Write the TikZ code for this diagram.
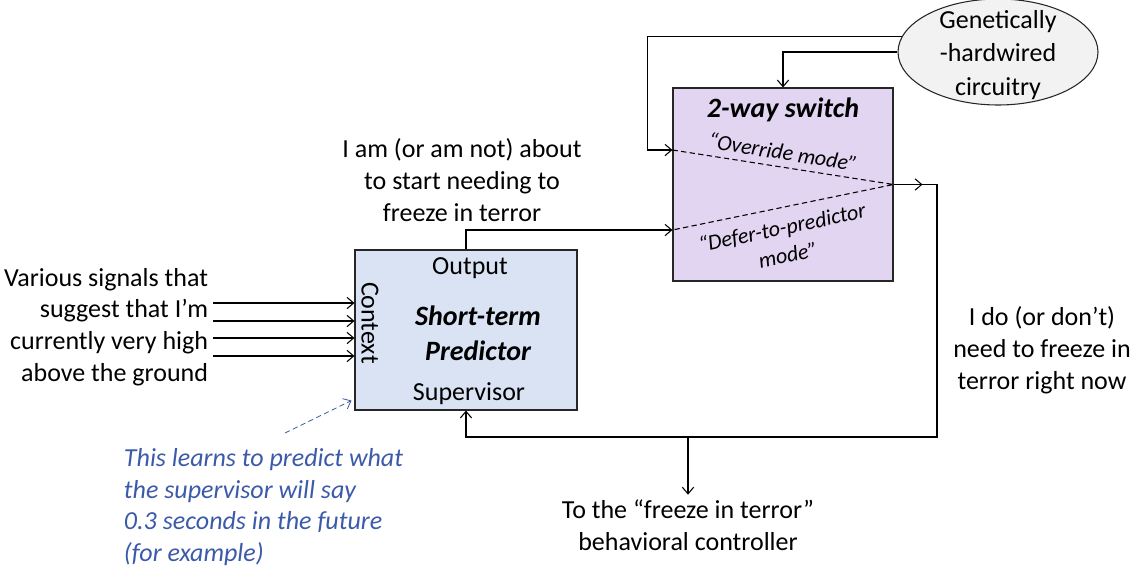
\documentclass[tikz,border=0pt]{standalone}
\usepackage{fontspec}
\setmainfont{Carlito}
\usetikzlibrary{arrows.meta,positioning,calc,shapes.geometric}
\definecolor{predfill}{RGB}{218,227,243}
\definecolor{swfill}{RGB}{226,213,241}
\definecolor{genfill}{RGB}{242,242,242}
\definecolor{noteblue}{RGB}{60,90,170}

\begin{document}
\begin{tikzpicture}[x=.75pt,y=-.75pt,font=\fontsize{19.5}{23.8}\selectfont,line width=.8pt,
  arr/.style={-{Straight Barb[length=5pt,width=8.5pt]}},
  blk/.style={draw=black!85,inner sep=0pt},
  ttl/.style={font=\fontsize{21}{26}\selectfont\bfseries\itshape,align=center},
  mode/.style={font=\fontsize{16.5}{21}\selectfont\itshape,align=center},
  note/.style={font=\fontsize{19.5}{23.8}\selectfont\itshape,text=noteblue,align=left}]
\useasboundingbox (0,0) rectangle (1131,569);
% boxes
\node[blk,fill=predfill,minimum width=166.5pt,minimum height=120pt] (pred) at (466,330) {};
\node[blk,fill=swfill,minimum width=165pt,minimum height=144.75pt] (sw) at (783,184.5) {};
\node[blk,ellipse,fill=genfill,minimum width=150pt,minimum height=79.5pt] (gen) at (998,52) {};
\node[align=center,font=\fontsize{19.5}{24.8}\selectfont] (gentxt) at (998,55) {Genetically\\-hardwired\\circuitry};
% inside the predictor
\node (outp) at (470,268) {Output};
\node[ttl] (predttl) at (478,333) {Short-term\\Predictor};
\node (supv) at (469,394) {Supervisor};
\node[rotate=-90] (ctx) at (370,323) {Context};
% inside the switch
\node[ttl] (swttl) at (783,110) {2-way switch};
\coordinate (ovr) at (sw.west |- 0,150);
\coordinate (dfr) at (sw.west |- 0,230);
\coordinate (mix) at (sw.east);
\draw[dash pattern=on 4pt off 2.5pt] (ovr) -- (mix) -- (dfr);
\node[mode,rotate=-9] (ovrlbl) at (783,152) {“Override mode”};
\node[mode,rotate=12] (dfrlbl) at (785,241) {“Defer-to-predictor\\mode”};
% labels
\node[align=right,anchor=east] (sig) at (213,327) {Various signals that\\suggest that I’m\\currently very high\\above the ground};
\node[align=center] (outlbl) at (462,180) {I am (or am not) about\\to start needing to\\freeze in terror};
\node[align=center] (nowlbl) at (1042,350) {I do (or don’t)\\need to freeze in\\terror right now};
\node[align=center] (ctl) at (688,525) {To the “freeze in terror”\\behavioral controller};
\node[note,anchor=west] (note) at (119,507) {This learns to predict what\\the supervisor will say\\0.3 seconds in the future\\(for example)};
% connectors
\foreach \y in {303,321,338,356}{\draw[arr] (sig.east |- 0,\y) -- (pred.west |- 0,\y);}
\draw[arr] (gen.171) -- ++(-254,0) |- (ovr);
\draw[arr] (gen.west) -| (sw.north);
\draw[arr] (pred.north) |- (dfr);
\draw[arr] (mix) -- ++(29,0);
\coordinate (turn) at (937,437);
\draw[arr] (mix) -| (turn) -| (pred.south);
\draw[arr] (turn -| ctl.north) -- (ctl.north);
\coordinate (ntail) at (285,433);
\draw[arr,noteblue,line width=.6pt,dash pattern=on 4pt off 2.5pt] (ntail) -- ([shift={(-3,-10)}]pred.south west);
\end{tikzpicture}
\end{document}
